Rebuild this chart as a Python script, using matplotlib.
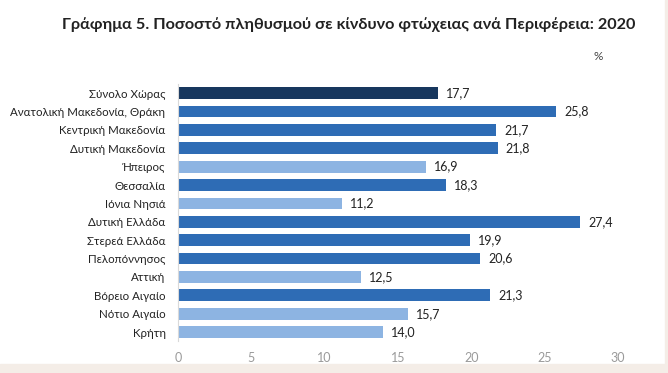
import matplotlib.pyplot as plt
from matplotlib.patches import Rectangle

plt.rcParams['font.family'] = ['Lato', 'Open Sans', 'DejaVu Sans']

regions = ["Σύνολο Χώρας", "Ανατολική Μακεδονία, Θράκη", "Κεντρική Μακεδονία",
           "Δυτική Μακεδονία", "Ήπειρος", "Θεσσαλία", "Ιόνια Νησιά",
           "Δυτική Ελλάδα", "Στερεά Ελλάδα", "Πελοπόννησος", "Αττική",
           "Βόρειο Αιγαίο", "Νότιο Αιγαίο", "Κρήτη"]
values = [17.7, 25.8, 21.7, 21.8, 16.9, 18.3, 11.2, 27.4, 19.9, 20.6, 12.5, 21.3, 15.7, 14.0]
# 0 = total, 1 = dark blue, 2 = light blue
group = [0, 1, 1, 1, 2, 1, 2, 1, 1, 1, 2, 1, 2, 2]
palette = {0: "#17375e", 1: "#2e6cb5", 2: "#8db4e2"}
xticks = [0, 5, 10, 15, 20, 25, 30]

fig = plt.figure(figsize=(6.68, 3.73), dpi=100)
fig.patch.set_facecolor("white")
# beige frame on right and bottom
fig.patches.append(Rectangle((665 / 668, 0), 1, 1, transform=fig.transFigure,
                             color="#f4ede7", zorder=0))
fig.patches.append(Rectangle((0, 0), 1, 9 / 373, transform=fig.transFigure,
                             color="#f4ede7", zorder=0))

ax = fig.add_axes([178 / 668, 0.085, 440 / 668, 0.69])
y = range(len(regions))
colors = [palette[g] for g in group]
ax.barh(y, values, height=0.64, color=colors, zorder=2)
for yi, v in zip(y, values):
    ax.text(v + 0.55, yi, f"{v:.1f}".replace(".", ","), va="center", ha="left",
            fontsize=9, color="#222222")

ax.set_ylim(len(regions) - 0.5, -0.5)
ax.set_xlim(0, 30)
ax.set_yticks(list(y))
ax.set_yticklabels(regions, fontsize=8.3, color="#222222")
ax.set_xticks(xticks)
ax.set_xticklabels([str(t) for t in xticks], fontsize=9, color="#9a9a9a")
ax.tick_params(axis="both", length=0)
ax.tick_params(axis="x", pad=8)
ax.tick_params(axis="y", pad=9)
for s in ["top", "right", "bottom"]:
    ax.spines[s].set_visible(False)
ax.spines["left"].set_color("#d9d9d9")
ax.spines["left"].set_linewidth(0.8)

fig.text(349 / 668, 1 - 25 / 373, "Γράφημα 5. Ποσοστό πληθυσμού σε κίνδυνο φτώχειας ανά Περιφέρεια: 2020",
         ha="center", va="center", fontsize=11.7, fontweight="bold", color="#222222")
fig.text(598 / 668, 1 - 57 / 373, "%", ha="center", va="center", fontsize=8.5, color="#444444")

fig.savefig("out.png", dpi=100)
